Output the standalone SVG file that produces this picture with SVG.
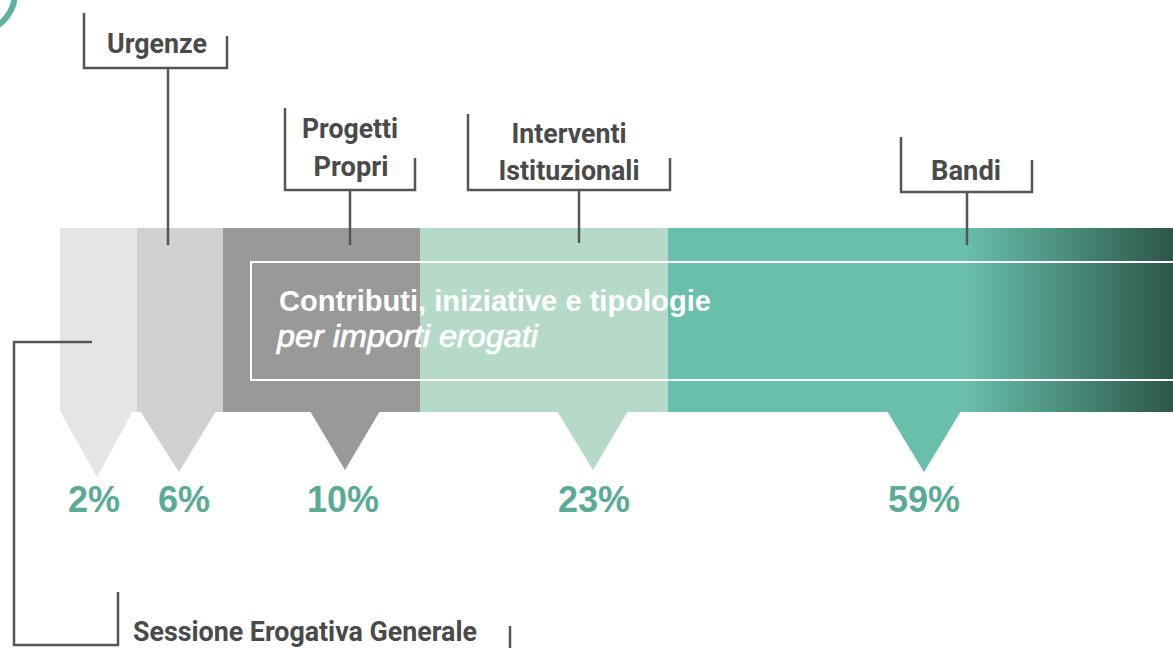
<svg xmlns="http://www.w3.org/2000/svg" width="1173" height="648" viewBox="0 0 1173 648">
  <style>
    .lbl { font-family: Roboto, "Liberation Sans", Arial, sans-serif; font-weight: bold; font-size: 27px; fill: #4a4a4a; }
    .pct { font-family: "Liberation Sans", Arial, sans-serif; font-weight: bold; font-size: 36px; fill: #5aab96; text-anchor: middle; }
    .ttl { font-family: "Liberation Sans", Arial, sans-serif; fill: #ffffff; }
    .br { fill: none; stroke: #555555; stroke-width: 2.5; }
  </style>
  <defs>
    <linearGradient id="gr" gradientUnits="userSpaceOnUse" x1="965" y1="0" x2="1173" y2="0">
      <stop offset="0" stop-color="#68bfac"/>
      <stop offset="0.5" stop-color="#4a8c7b"/>
      <stop offset="1" stop-color="#2d5649"/>
    </linearGradient>
  </defs>
  <rect width="1173" height="648" fill="#ffffff"/>
  <circle cx="-25" cy="-7.5" r="40" fill="none" stroke="#5db39e" stroke-width="6"/>

  <g id="seg1">
    <rect x="60" y="228" width="77" height="184" fill="#e5e5e5"/>
    <polygon points="60,411 133,411 97,477" fill="#e5e5e5"/>
  </g>
  <g id="seg2">
    <rect x="137" y="228" width="86" height="184" fill="#d0d0d0"/>
    <polygon points="140,411 216,411 179,472" fill="#d0d0d0"/>
  </g>
  <g id="seg3">
    <rect x="223" y="228" width="197" height="184" fill="#999999"/>
    <polygon points="310,411 380,411 345,470" fill="#999999"/>
  </g>
  <g id="seg4">
    <rect x="420" y="228" width="248" height="184" fill="#b5dbc8"/>
    <polygon points="557,411 628,411 593,470" fill="#b5dbc8"/>
  </g>
  <g id="seg5">
    <rect x="668" y="228" width="505" height="184" fill="url(#gr)"/>
    <polygon points="887,411 961,411 924,472" fill="#68bfac"/>
  </g>

  <g id="title">
    <rect x="251" y="262" width="940" height="118" fill="none" stroke="#ffffff" stroke-width="2"/>
    <text class="ttl" x="279" y="311" font-size="30" font-weight="bold" textLength="432" lengthAdjust="spacingAndGlyphs">Contributi, iniziative e tipologie</text>
    <text class="ttl" x="277" y="347" font-size="31" font-style="italic" stroke="#ffffff" stroke-width="0.7" textLength="261" lengthAdjust="spacingAndGlyphs">per importi erogati</text>
  </g>

  <g id="percentages">
    <text class="pct" x="94" y="512">2%</text>
    <text class="pct" x="184" y="512">6%</text>
    <text class="pct" x="343" y="512">10%</text>
    <text class="pct" x="594" y="512">23%</text>
    <text class="pct" x="924" y="512">59%</text>
  </g>

  <g id="connectors">
    <polyline class="br" points="84,13 84,68 227,68 227,36"/>
    <line class="br" x1="168" y1="68" x2="168" y2="245"/>
    <polyline class="br" points="285,108 285,190 415,190 415,158"/>
    <line class="br" x1="350" y1="190" x2="350" y2="245"/>
    <polyline class="br" points="468,114 468,190 670,190 670,158"/>
    <line class="br" x1="579" y1="190" x2="579" y2="243"/>
    <polyline class="br" points="901,137 901,192 1032,192 1032,160"/>
    <line class="br" x1="967" y1="192" x2="967" y2="245"/>
    <polyline class="br" points="92,342 14,342 14,645 118,645 118,592"/>
    <line class="br" x1="510" y1="626" x2="510" y2="648"/>
  </g>

  <g id="label-urgenze">
    <text class="lbl" x="157" y="53" text-anchor="middle" textLength="100" lengthAdjust="spacingAndGlyphs">Urgenze</text>
  </g>
  <g id="label-progetti">
    <text class="lbl" x="350" y="138" text-anchor="middle" textLength="96" lengthAdjust="spacingAndGlyphs">Progetti</text>
    <text class="lbl" x="351" y="176" text-anchor="middle" textLength="75" lengthAdjust="spacingAndGlyphs">Propri</text>
  </g>
  <g id="label-interventi">
    <text class="lbl" x="569" y="143" text-anchor="middle" textLength="115" lengthAdjust="spacingAndGlyphs">Interventi</text>
    <text class="lbl" x="569" y="180" text-anchor="middle" textLength="141" lengthAdjust="spacingAndGlyphs">Istituzionali</text>
  </g>
  <g id="label-bandi">
    <text class="lbl" x="966" y="180" text-anchor="middle" textLength="70" lengthAdjust="spacingAndGlyphs">Bandi</text>
  </g>
  <g id="label-sessione">
    <text class="lbl" x="133" y="641" textLength="344" lengthAdjust="spacingAndGlyphs">Sessione Erogativa Generale</text>
  </g>
</svg>
